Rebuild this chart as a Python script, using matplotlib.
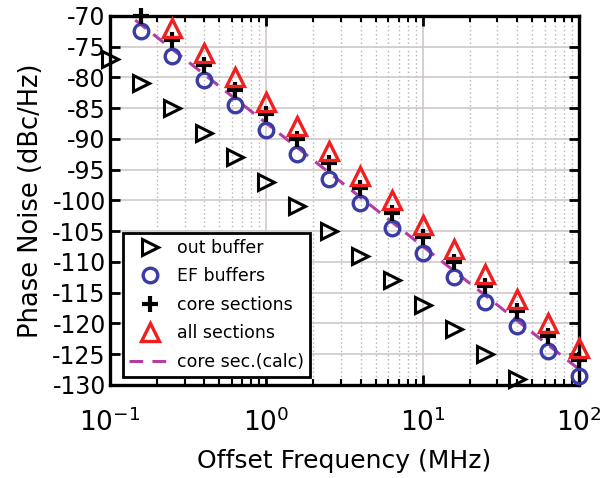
import matplotlib
matplotlib.use("Agg")
import matplotlib.pyplot as plt
from matplotlib.ticker import LogLocator, FixedLocator

plt.rcParams["font.family"] = ["DejaVu Sans"]
plt.rcParams["axes.unicode_minus"] = False
plt.rcParams["mathtext.fontset"] = "dejavusans"

# offset frequencies (MHz)
f_out = [0.1, 0.158, 0.251, 0.398, 0.631, 1.0, 1.58, 2.51, 3.98, 6.31, 10.0, 15.8, 25.1, 39.8]
f_ef = [0.158, 0.251, 0.398, 0.631, 1.0, 1.58, 2.51, 3.98, 6.31, 10.0, 15.8, 25.1, 39.8, 63.1, 100.0]
f_all = [0.251, 0.398, 0.631, 1.0, 1.58, 2.51, 3.98, 6.31, 10.0, 15.8, 25.1, 39.8, 63.1, 100.0]
f_calc = [0.145, 100.0]

# phase noise (dBc/Hz)
pn_out = [-77, -81, -85, -89, -93, -97, -101, -105, -109, -113, -117, -121, -125, -129]
pn_ef = [-72.5, -76.5, -80.5, -84.5, -88.5, -92.5, -96.5, -100.5, -104.5, -108.5,
         -112.5, -116.5, -120.5, -124.5, -128.5]
pn_core = [-70, -74, -78, -82, -86, -90, -94, -98, -102, -106, -110, -114, -118, -122, -126]
pn_all = [-72, -76, -80, -84, -88, -92, -96, -100, -104, -108, -112, -116, -120, -124]
pn_calc = [-70.7, -127.5]

fig = plt.figure(figsize=(6.11, 4.78), dpi=100)
ax = fig.add_axes([0.18, 0.195, 0.768, 0.772])

ax.plot(f_out, pn_out, ls="", marker=">", ms=11.5, mfc="none", mec="black", mew=2.2,
        clip_on=False, label="out buffer", zorder=3)
ax.plot(f_ef, pn_ef, ls="", marker="o", ms=10.5, mfc="none", mec="#3b3ba6", mew=2.4,
        clip_on=False, label="EF buffers", zorder=3)
ax.plot(f_ef, pn_core, ls="", marker="+", ms=11, mec="black", mew=3.0,
        clip_on=False, label="core sections", zorder=3)
ax.plot(f_all, pn_all, ls="", marker="^", ms=12.5, mfc="none", mec="#ee2020", mew=2.4,
        clip_on=False, label="all sections", zorder=3)
ax.plot(f_calc, pn_calc, ls=(0, (4.5, 3)), color="#b43ca6", lw=2.2,
        label="core sec.(calc)", zorder=2)

ax.set_xscale("log")
ax.set_xlim(0.1, 100)
ax.set_ylim(-130, -70)
ax.yaxis.set_major_locator(FixedLocator(range(-130, -69, 5)))
ax.xaxis.set_minor_locator(LogLocator(base=10, subs=range(2, 10)))

ax.grid(True, which="major", color="#cfc8c8", lw=1.2, ls="-", zorder=0)
ax.grid(True, which="minor", axis="x", color="#b8b2b2", lw=1.0, ls=(0, (1, 2)), zorder=0)

ax.tick_params(which="both", direction="in", top=True, right=True, width=2)
ax.tick_params(axis="y", labelsize=17, pad=3)
ax.tick_params(axis="x", which="major", labelsize=19, pad=17)
ax.tick_params(which="major", length=7)
ax.tick_params(which="minor", length=4, width=1.5)
for s in ax.spines.values():
    s.set_linewidth(2.4)

ax.set_xlabel("Offset Frequency (MHz)", fontsize=18, labelpad=9)
ax.set_ylabel("Phase Noise (dBc/Hz)", fontsize=18.5, labelpad=6)

leg = ax.legend(loc="lower left", bbox_to_anchor=(0.027, 0.022), fontsize=12.5,
                frameon=True, fancybox=False, framealpha=1, edgecolor="black",
                borderpad=0.35, labelspacing=0.6, handletextpad=0.4, handlelength=2.4,
                borderaxespad=0)
leg.get_frame().set_linewidth(2)

fig.savefig("out.png", dpi=100)
